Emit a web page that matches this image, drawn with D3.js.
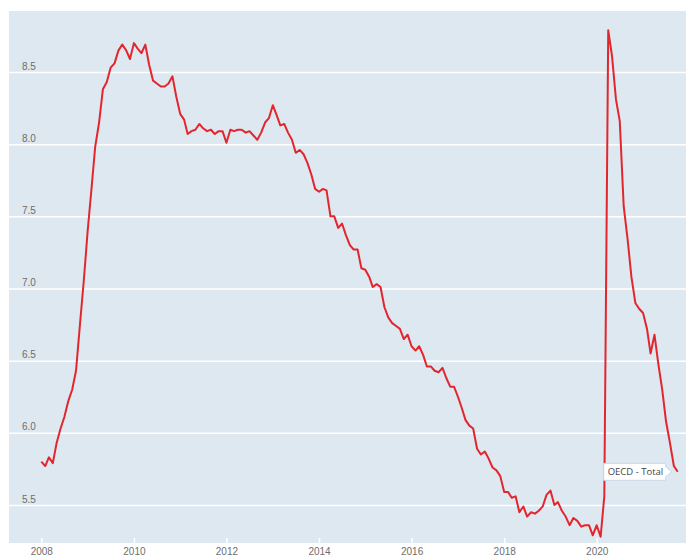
<!DOCTYPE html>
<html>
<head>
<meta charset="utf-8">
<script src="https://cdn.jsdelivr.net/npm/d3@7"></script>
<style>
  body { margin: 0; background: #fff; }
  svg { display: block; font-family: "Open Sans", sans-serif; }
</style>
</head>
<body>
<div id="chart"></div>
<script>
// monthly series, starting January 2008
var startMonth = new Date(2008, 0, 1);
var seriesName = "OECD - Total";
var unemployment = [
  5.80, 5.77, 5.83, 5.79, 5.93, 6.03, 6.11, 6.22, 6.30, 6.43, 6.75, 7.05,
  7.40, 7.70, 7.98, 8.15, 8.38, 8.43, 8.53, 8.56, 8.65, 8.69, 8.65, 8.59,
  8.70, 8.66, 8.63, 8.69, 8.55, 8.44, 8.42, 8.40, 8.40, 8.42, 8.47, 8.33,
  8.21, 8.17, 8.07, 8.09, 8.10, 8.14, 8.11, 8.09, 8.10, 8.07, 8.09, 8.09,
  8.01, 8.10, 8.09, 8.10, 8.10, 8.08, 8.09, 8.06, 8.03, 8.08, 8.15, 8.18,
  8.27, 8.20, 8.13, 8.14, 8.08, 8.03, 7.94, 7.96, 7.93, 7.87, 7.79, 7.69,
  7.67, 7.69, 7.68, 7.50, 7.50, 7.42, 7.45, 7.37, 7.30, 7.27, 7.27, 7.14,
  7.13, 7.08, 7.01, 7.03, 7.01, 6.87, 6.80, 6.76, 6.74, 6.72, 6.65, 6.68,
  6.60, 6.57, 6.60, 6.54, 6.46, 6.46, 6.43, 6.42, 6.45, 6.38, 6.32, 6.32,
  6.25, 6.17, 6.09, 6.05, 6.03, 5.89, 5.85, 5.87, 5.82, 5.76, 5.74, 5.70,
  5.59, 5.59, 5.55, 5.56, 5.45, 5.49, 5.42, 5.45, 5.44, 5.46, 5.49, 5.57,
  5.60, 5.50, 5.52, 5.46, 5.42, 5.36, 5.41, 5.39, 5.35, 5.36, 5.36, 5.29,
  5.36, 5.28, 5.56, 8.79, 8.61, 8.31, 8.16, 7.57, 7.34, 7.08, 6.90, 6.86,
  6.83, 6.72, 6.55, 6.68, 6.48, 6.30, 6.08, 5.93, 5.77, 5.73
];
var xTickYears = [2008, 2010, 2012, 2014, 2016, 2018, 2020];
var yTicks = [5.5, 6.0, 6.5, 7.0, 7.5, 8.0, 8.5];

var W = 686, H = 557;
var plot = {left: 9, top: 11, right: 686, bottom: 543};

var data = unemployment.map(function(v, i) {
    return {date: d3.timeMonth.offset(startMonth, i), value: v};
});

var svg = d3.select("#chart").append("svg")
    .attr("width", W)
    .attr("height", H);

// plot background
svg.append("rect")
    .attr("x", plot.left)
    .attr("y", plot.top)
    .attr("width", plot.right - plot.left)
    .attr("height", plot.bottom - plot.top)
    .attr("fill", "#dde8f0");

var x = d3.scaleTime()
    .domain([new Date(2008, 0, 1), new Date(2020, 0, 1)])
    .range([41.3, 596.7]);

var y = d3.scaleLinear()
    .domain([5.5, 8.5])
    .range([505, 72]);

// y grid + labels
var yAxis = svg.append("g")
    .attr("transform", "translate(" + plot.left + ",0)")
    .call(d3.axisRight(y)
        .tickValues(yTicks)
        .tickSize(plot.right - plot.left)
        .tickFormat(d3.format(".1f")));
yAxis.select(".domain").remove();
yAxis.selectAll(".tick line")
    .attr("stroke", "#ffffff")
    .attr("stroke-width", 1.5);
yAxis.selectAll(".tick text")
    .attr("x", 13)
    .attr("dy", "-3")
    .attr("text-anchor", "start")
    .attr("fill", "#6d6d6d")
    .attr("font-size", "10px");

// x axis
var xAxis = svg.append("g")
    .attr("transform", "translate(0," + plot.bottom + ")")
    .call(d3.axisBottom(x)
        .tickValues(xTickYears.map(function(yr) { return new Date(yr, 0, 1); }))
        .tickSize(-5)
        .tickFormat(d3.timeFormat("%Y")));
xAxis.select(".domain").remove();
xAxis.selectAll(".tick line")
    .attr("stroke", "#ffffff")
    .attr("stroke-width", 1.5);
xAxis.selectAll(".tick text")
    .attr("y", 5)
    .attr("dy", "0.71em")
    .attr("fill", "#6d6d6d")
    .attr("font-size", "10px");

// the line
svg.append("path")
    .datum(data)
    .attr("fill", "none")
    .attr("stroke", "#e3262e")
    .attr("stroke-width", 2)
    .attr("stroke-linejoin", "round")
    .attr("d", d3.line()
        .x(function(d) { return x(d.date); })
        .y(function(d) { return y(d.value); }));

// series label box pointing at the last point
var last = data[data.length - 1];
var lx = x(last.date), ly = y(last.value);
var boxW = 62, boxH = 17;
var bx = lx - 12 - boxW, by = ly - boxH / 2;
var lab = svg.append("g");
lab.append("path")
    .attr("d", "M" + bx + "," + by +
        "h" + boxW + "l0," + (boxH / 2 - 5) + "l6,5l-6,5l0," + (boxH / 2 - 5) +
        "h" + (-boxW) + "z")
    .attr("fill", "#ffffff")
    .attr("stroke", "#c9d9e6")
    .attr("stroke-width", 1);
lab.append("text")
    .attr("x", bx + 4)
    .attr("y", ly + 3.5)
    .attr("fill", "#444")
    .attr("font-size", "9.5px")
    .text(seriesName);
</script>
</body>
</html>
